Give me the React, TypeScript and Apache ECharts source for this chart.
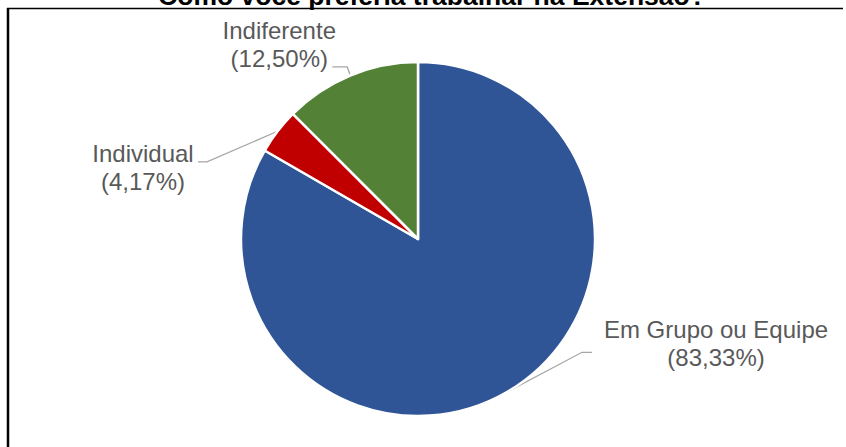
import React, { useEffect, useRef } from "react";
import * as echarts from "echarts";

const titleText = "Como você preferia trabalhar na Extensão?";
const categories = ["Em Grupo ou Equipe", "Individual", "Indiferente"];
const percentages = [83.33, 4.17, 12.5];
const colors = ["#2F5597", "#C00000", "#538135"];

// label placement, as offsets from the slice's leader-line anchor on the arc
const labelOffsets = [
  { label: [209.5, -49], elbow: [75.5, -40], end: [85.5, -40] },
  { label: [-134.6, 36.7], elbow: [-70.6, 30.7], end: [-79.6, 30.7] },
  { label: [-71, -30.5], elbow: [-3, -8.5], end: [-18, -8.5] },
];

const FONT = '"Liberation Sans", Arial, Helvetica, sans-serif';

export default function App() {
  const ref = useRef<HTMLDivElement>(null);
  useEffect(() => {
    if (!ref.current) return;
    const chart = echarts.init(ref.current, null, { renderer: "svg" });
    const data = categories.map((name, i) => ({
      name,
      value: percentages[i],
      itemStyle: { color: colors[i] },
    }));
    chart.setOption({
      animation: false,
      backgroundColor: "#ffffff",
      graphic: [
        {
          type: "text",
          x: 432,
          y: 9,
          z: 10,
          style: {
            text: titleText,
            fontFamily: FONT,
            fontSize: 26.5,
            fontWeight: "bold",
            fill: "#000000",
            align: "center",
            verticalAlign: "bottom",
          },
        },
        {
          type: "line",
          shape: { x1: 7, y1: 8.5, x2: 843, y2: 8.5 },
          style: { stroke: "#000000", lineWidth: 1.5 },
        },
        {
          type: "line",
          shape: { x1: 8, y1: 8, x2: 8, y2: 447 },
          style: { stroke: "#000000", lineWidth: 2.5 },
        },
      ],
      series: [
        {
          type: "pie",
          center: [418, 239],
          radius: 177,
          startAngle: 90,
          clockwise: true,
          avoidLabelOverlap: false,
          data,
          itemStyle: { borderColor: "#ffffff", borderWidth: 2.5 },
          label: {
            show: true,
            position: "outside",
            fontFamily: FONT,
            fontSize: 24,
            lineHeight: 28,
            color: "#595959",
            align: "center",
            formatter: (p: any) =>
              p.name + "\n(" + Number(p.value).toFixed(2).replace(".", ",") + "%)",
          },
          labelLine: {
            show: true,
            length: 20,
            length2: 10,
            lineStyle: { color: "#A6A6A6", width: 1.3 },
          },
          labelLayout: (params: any) => {
            const off = labelOffsets[params.dataIndex];
            const pts = params.labelLinePoints;
            if (!off || !pts) return {};
            const p0 = pts[0];
            return {
              x: p0[0] + off.label[0],
              y: p0[1] + off.label[1],
              align: "center",
              verticalAlign: "middle",
              labelLinePoints: [
                [p0[0], p0[1]],
                [p0[0] + off.elbow[0], p0[1] + off.elbow[1]],
                [p0[0] + off.end[0], p0[1] + off.end[1]],
              ],
            };
          },
        },
      ],
    });
    return () => chart.dispose();
  }, []);
  return (
    <div
      ref={ref}
      style={{ position: "absolute", left: 0, top: 0, width: 846, height: 447 }}
    />
  );
}
